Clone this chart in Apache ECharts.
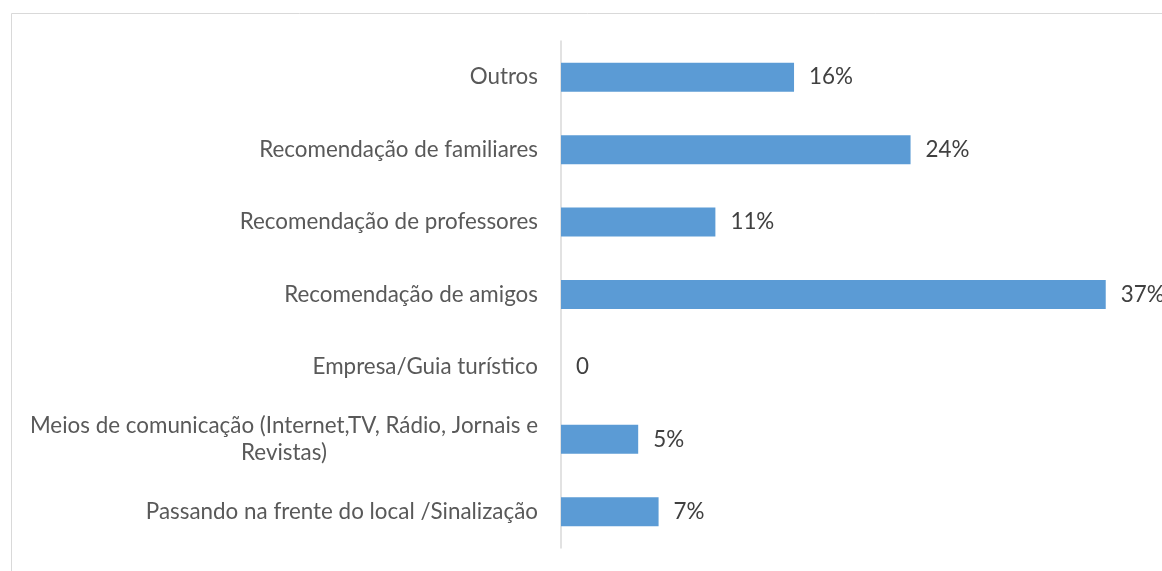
<!DOCTYPE html>
<html>
<head>
<meta charset="utf-8">
<script src="https://cdn.jsdelivr.net/npm/echarts@6/dist/echarts.min.js"></script>
<style>
  html, body { margin: 0; padding: 0; background: #fff; }
  #chart { width: 1162px; height: 571px; }
</style>
</head>
<body>
<div id="chart"></div>
<script>
// Categories, bottom to top (ECharts category y-axis draws the first item at the bottom)
const categories = [
  'Passando na frente do local /Sinalização',
  'Meios de comunicação (Internet,TV, Rádio, Jornais e Revistas)',
  'Empresa/Guia turístico',
  'Recomendação de amigos',
  'Recomendação de professores',
  'Recomendação de familiares',
  'Outros'
];
// Shares (fraction of respondents)
const shares = [0.067, 0.053, 0, 0.374, 0.106, 0.24, 0.16];

const FONT = 'Lato';
const ctx = document.createElement('canvas').getContext('2d');
ctx.font = '100px ' + FONT;
const fs = Math.round(100 * 279 / ctx.measureText('Recomendação de familiares').width * 10) / 10;

const chart = echarts.init(document.getElementById('chart'), null, { renderer: 'canvas' });
chart.setOption({
  backgroundColor: '#ffffff',
  animation: false,
  graphic: [{
    type: 'rect', left: 9, top: 11,
    shape: { width: 1300, height: 700 },
    style: { fill: 'none', stroke: '#D9D9D9', lineWidth: 1 },
    silent: true
  }],
  grid: { left: 561, right: 18.4, top: 41, bottom: 23, containLabel: false },
  xAxis: {
    type: 'value', min: 0, max: 0.4, show: false,
    splitLine: { show: false }
  },
  yAxis: {
    type: 'category',
    data: categories,
    axisLine: { show: true, lineStyle: { color: '#D9D9D9', width: 1.5 } },
    axisTick: { show: false },
    axisLabel: {
      margin: 23,
      color: '#595959',
      fontFamily: FONT,
      fontSize: fs,
      formatter: function (v) {
        if (v.indexOf('Revistas)') !== -1) {
          return '{c|Meios de comunicação (Internet,TV, Rádio, Jornais e}\n{c|Revistas)}';
        }
        return v;
      },
      rich: {
        c: { align: 'center', color: '#595959', fontFamily: FONT, fontSize: fs, lineHeight: 27 }
      }
    }
  },
  series: [{
    type: 'bar',
    data: shares,
    barWidth: 29,
    itemStyle: { color: '#5B9BD5' },
    label: {
      show: true,
      position: 'right',
      distance: 15,
      color: '#404040',
      fontFamily: FONT,
      fontSize: fs,
      formatter: function (p) {
        return p.value === 0 ? '0' : Math.round(p.value * 100) + '%';
      }
    }
  }]
});
</script>
</body>
</html>
